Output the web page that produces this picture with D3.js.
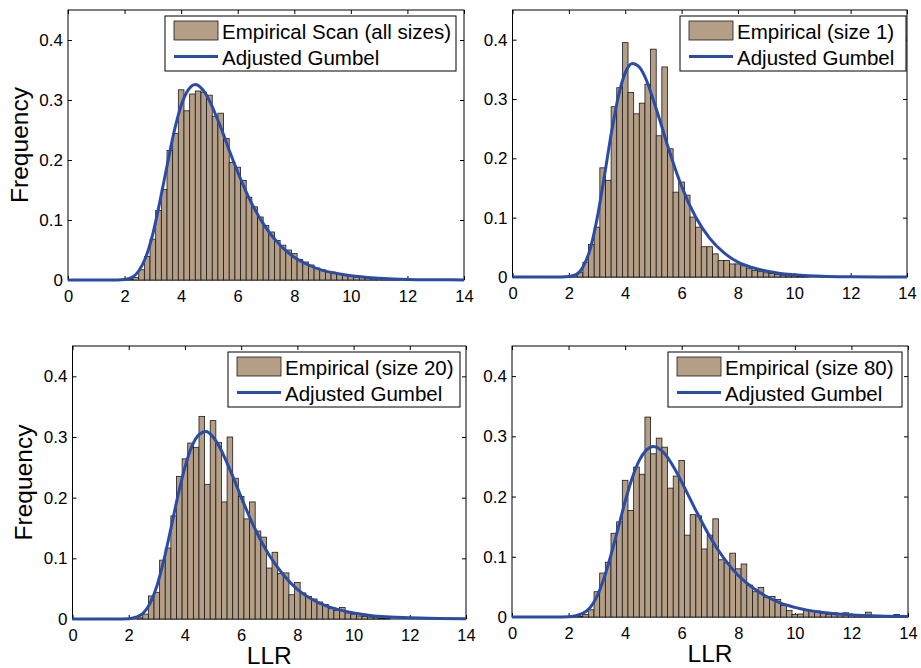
<!DOCTYPE html>
<html>
<head>
<meta charset="utf-8">
<script src="https://cdn.jsdelivr.net/npm/d3@7"></script>
<style>
  body { margin: 0; background: #fff; }
  svg { font-family: "Liberation Sans", Arial, Helvetica, sans-serif; }
</style>
</head>
<body>
<div id="chart"></div>
<script>
// bin centres of the histograms (LLR), bins are 0.2 wide
var binCenters = [
  2.0, 2.2, 2.4, 2.6, 2.8, 3.0, 3.2, 3.4, 3.6, 3.8,
  4.0, 4.2, 4.4, 4.6, 4.8, 5.0, 5.2, 5.4, 5.6, 5.8,
  6.0, 6.2, 6.4, 6.6, 6.8, 7.0, 7.2, 7.4, 7.6, 7.8,
  8.0, 8.2, 8.4, 8.6, 8.8, 9.0, 9.2, 9.4, 9.6, 9.8,
  10.0, 10.2, 10.4, 10.6, 10.8, 11.0, 11.2, 11.4, 11.6, 11.8,
  12.0, 12.2, 12.4, 12.6, 12.8, 13.0, 13.2, 13.4, 13.6, 13.8
];

var freqAll = [
  0, 0.001, 0.004, 0.017, 0.039, 0.068, 0.116, 0.151, 0.216, 0.244,
  0.317, 0.282, 0.310, 0.315, 0.313, 0.308, 0.273, 0.278, 0.236, 0.196,
  0.188, 0.166, 0.138, 0.122, 0.105, 0.091, 0.080, 0.066, 0.058, 0.050,
  0.044, 0.034, 0.030, 0.025, 0.020, 0.017, 0.014, 0.012, 0.010, 0.008,
  0.007, 0.005, 0.004, 0.003, 0.002, 0.002, 0.001, 0.001, 0.001, 0,
  0, 0, 0, 0, 0, 0, 0, 0, 0, 0
];

var freqSize1 = [
  0.001, 0.003, 0.008, 0.025, 0.055, 0.084, 0.184, 0.163, 0.287, 0.319,
  0.395, 0.311, 0.275, 0.293, 0.325, 0.384, 0.238, 0.354, 0.216, 0.143,
  0.160, 0.138, 0.101, 0.084, 0.051, 0.051, 0.039, 0.028, 0.028, 0.022,
  0.022, 0.019, 0.014, 0.011, 0.009, 0.007, 0.006, 0.004, 0.003, 0.002,
  0.002, 0.001, 0.001, 0, 0, 0, 0, 0, 0, 0,
  0, 0, 0, 0, 0, 0, 0, 0, 0, 0
];

var freqSize20 = [
  0.001, 0, 0.002, 0.008, 0.038, 0.044, 0.097, 0.117, 0.170, 0.235,
  0.264, 0.290, 0.283, 0.334, 0.222, 0.327, 0.291, 0.193, 0.300, 0.232,
  0.202, 0.165, 0.193, 0.145, 0.135, 0.084, 0.110, 0.075, 0.076, 0.040,
  0.060, 0.043, 0.037, 0.033, 0.028, 0.024, 0.017, 0.014, 0.019, 0.010,
  0.008, 0.005, 0.004, 0.003, 0.002, 0.001, 0.001, 0, 0, 0,
  0, 0, 0, 0, 0, 0, 0, 0, 0, 0
];

var freqSize80 = [
  0, 0.002, 0.001, 0.004, 0.012, 0.042, 0.073, 0.091, 0.139, 0.158,
  0.227, 0.177, 0.249, 0.237, 0.332, 0.271, 0.297, 0.282, 0.214, 0.234,
  0.260, 0.136, 0.170, 0.168, 0.113, 0.136, 0.163, 0.095, 0.090, 0.106,
  0.080, 0.088, 0.053, 0.042, 0.049, 0.033, 0.034, 0.029, 0.019, 0.011,
  0.004, 0.005, 0.011, 0.011, 0.010, 0.006, 0.004, 0.007, 0.005, 0.007,
  0.004, 0.002, 0.002, 0.008, 0.001, 0.001, 0, 0.001, 0.004, 0
];

// fitted (adjusted Gumbel) curves
var curveX = [0, 1, 1.5, 2, 2.25, 2.5, 2.75, 3, 3.25, 3.5, 3.75, 4, 4.25, 4.5, 4.75, 5,
  5.25, 5.5, 5.75, 6, 6.5, 7, 7.5, 8, 8.5, 9, 9.5, 10, 11, 12, 13, 14];

var gumbelAll = [0, 0, 0, 0.001, 0.004, 0.015, 0.038, 0.077, 0.131, 0.190, 0.247, 0.291, 0.317, 0.326, 0.318, 0.299,
  0.272, 0.242, 0.210, 0.180, 0.127, 0.087, 0.058, 0.038, 0.025, 0.016, 0.011, 0.007, 0.003, 0.001, 0.0005, 0.0002];
var gumbelSize1 = [0, 0, 0, 0.001, 0.004, 0.017, 0.046, 0.098, 0.167, 0.240, 0.303, 0.344, 0.360, 0.354, 0.332, 0.298,
  0.261, 0.222, 0.186, 0.153, 0.101, 0.065, 0.041, 0.025, 0.016, 0.010, 0.006, 0.004, 0.0014, 0.0005, 0.0002, 0.0001];
var gumbelSize20 = [0, 0, 0, 0.0005, 0.003, 0.009, 0.025, 0.054, 0.097, 0.149, 0.203, 0.250, 0.285, 0.304, 0.309, 0.300,
  0.282, 0.257, 0.230, 0.201, 0.148, 0.105, 0.073, 0.049, 0.033, 0.022, 0.015, 0.010, 0.004, 0.002, 0.0008, 0.0003];
var gumbelSize80 = [0, 0, 0, 0.0003, 0.002, 0.006, 0.015, 0.034, 0.064, 0.103, 0.147, 0.192, 0.231, 0.260, 0.277, 0.283,
  0.278, 0.265, 0.246, 0.224, 0.177, 0.133, 0.097, 0.069, 0.049, 0.034, 0.023, 0.016, 0.0075, 0.0035, 0.0016, 0.0007];

var xTicks = [0, 2, 4, 6, 8, 10, 12, 14];
var yTicks = [0, 0.1, 0.2, 0.3, 0.4];
var histNames = ["Empirical Scan (all sizes)", "Empirical (size 1)", "Empirical (size 20)", "Empirical (size 80)"];
var curveName = "Adjusted Gumbel";

var barColor = "#b59e86";
var lineColor = "#2b4ca6";
var binWidth = 0.2;

var svgWidth = 921;
var svgHeight = 668;

var svg = d3.select("#chart")
  .append("svg")
  .attr("width", svgWidth)
  .attr("height", svgHeight);

var panels = [
  { freq: freqAll, fit: gumbelAll, name: histNames[0], left: 68, right: 464, top: 10, bottom: 280,
    legend: { x: 165, y: 16, w: 291 }, yLabel: true, xLabel: false },
  { freq: freqSize1, fit: gumbelSize1, name: histNames[1], left: 512.5, right: 907, top: 10, bottom: 277,
    legend: { x: 680, y: 16, w: 226 }, yLabel: false, xLabel: false },
  { freq: freqSize20, fit: gumbelSize20, name: histNames[2], left: 72.5, right: 466, top: 346, bottom: 619,
    legend: { x: 228, y: 352, w: 232 }, yLabel: true, xLabel: true },
  { freq: freqSize80, fit: gumbelSize80, name: histNames[3], left: 512, right: 908, top: 346, bottom: 617,
    legend: { x: 668, y: 352, w: 234 }, yLabel: false, xLabel: true }
];

panels.forEach(function(p) {
  var x = d3.scaleLinear().domain([0, 14]).range([p.left, p.right]);
  var y = d3.scaleLinear().domain([0, 0.45]).range([p.bottom, p.top]);
  var g = svg.append("g");

  // tick marks point inward on all four sides, like matlab
  g.append("g")
    .attr("transform", `translate(0, ${p.bottom})`)
    .call(d3.axisBottom(x).tickValues(xTicks).tickSizeInner(-4).tickSizeOuter(0).tickPadding(10))
    .call(a => a.select(".domain").remove())
    .call(a => a.selectAll("text").attr("font-size", "16.5px").attr("fill", "#000"));

  g.append("g")
    .attr("transform", `translate(${p.left}, 0)`)
    .call(d3.axisLeft(y).tickValues(yTicks).tickSizeInner(-4).tickSizeOuter(0).tickPadding(5)
      .tickFormat(d => d === 0 ? "0" : d3.format(".1f")(d)))
    .call(a => a.select(".domain").remove())
    .call(a => a.selectAll("text").attr("font-size", "17px").attr("fill", "#000"));

  g.append("g")
    .attr("transform", `translate(0, ${p.top})`)
    .call(d3.axisTop(x).tickValues(xTicks).tickSizeInner(-4).tickSizeOuter(0).tickFormat(""))
    .call(a => a.select(".domain").remove());

  g.append("g")
    .attr("transform", `translate(${p.right}, 0)`)
    .call(d3.axisRight(y).tickValues(yTicks).tickSizeInner(-4).tickSizeOuter(0).tickFormat(""))
    .call(a => a.select(".domain").remove());

  g.selectAll(".tick line").attr("stroke", "#000");

  g.append("rect")
    .attr("x", p.left)
    .attr("y", p.top)
    .attr("width", p.right - p.left)
    .attr("height", p.bottom - p.top)
    .attr("fill", "none")
    .attr("stroke", "#000")
    .attr("stroke-width", 1);

  // histogram bars
  var bins = binCenters.map((c, i) => ({ c: c, v: p.freq[i] })).filter(d => d.v > 0);
  g.selectAll(".bar")
    .data(bins)
    .enter()
    .append("rect")
    .attr("class", "bar")
    .attr("x", d => x(d.c - binWidth / 2))
    .attr("width", d => x(d.c + binWidth / 2) - x(d.c - binWidth / 2))
    .attr("y", d => y(d.v))
    .attr("height", d => p.bottom - y(d.v))
    .attr("fill", barColor)
    .attr("stroke", "#1a1a1a")
    .attr("stroke-width", 0.8);

  // fitted curve
  var line = d3.line()
    .x((d, i) => x(curveX[i]))
    .y(d => y(d))
    .curve(d3.curveMonotoneX);

  g.append("path")
    .attr("d", line(p.fit))
    .attr("fill", "none")
    .attr("stroke", lineColor)
    .attr("stroke-width", 3);

  // legend
  var lg = g.append("g").attr("transform", `translate(${p.legend.x}, ${p.legend.y})`);
  lg.append("rect")
    .attr("width", p.legend.w)
    .attr("height", 55)
    .attr("fill", "#fff")
    .attr("stroke", "#000")
    .attr("stroke-width", 1);
  lg.append("rect")
    .attr("x", 9)
    .attr("y", 5)
    .attr("width", 44)
    .attr("height", 19)
    .attr("fill", barColor)
    .attr("stroke", "#1a1a1a")
    .attr("stroke-width", 0.8);
  lg.append("line")
    .attr("x1", 9)
    .attr("x2", 53)
    .attr("y1", 40.5)
    .attr("y2", 40.5)
    .attr("stroke", lineColor)
    .attr("stroke-width", 3);
  lg.append("text")
    .attr("x", 57)
    .attr("y", 23)
    .attr("font-size", "20.5px")
    .text(p.name);
  lg.append("text")
    .attr("x", 57)
    .attr("y", 49)
    .attr("font-size", "20.5px")
    .text(curveName);

  // axis labels
  if (p.yLabel) {
    g.append("text")
      .attr("transform", `translate(${p.left - 40.5}, ${(p.top + p.bottom) / 2}) rotate(-90)`)
      .attr("text-anchor", "middle")
      .attr("font-size", "24.5px")
      .text("Frequency");
  }
  if (p.xLabel) {
    g.append("text")
      .attr("x", (p.left + p.right) / 2)
      .attr("y", p.bottom + 45)
      .attr("text-anchor", "middle")
      .attr("font-size", "24.5px")
      .text("LLR");
  }
});
</script>
</body>
</html>
